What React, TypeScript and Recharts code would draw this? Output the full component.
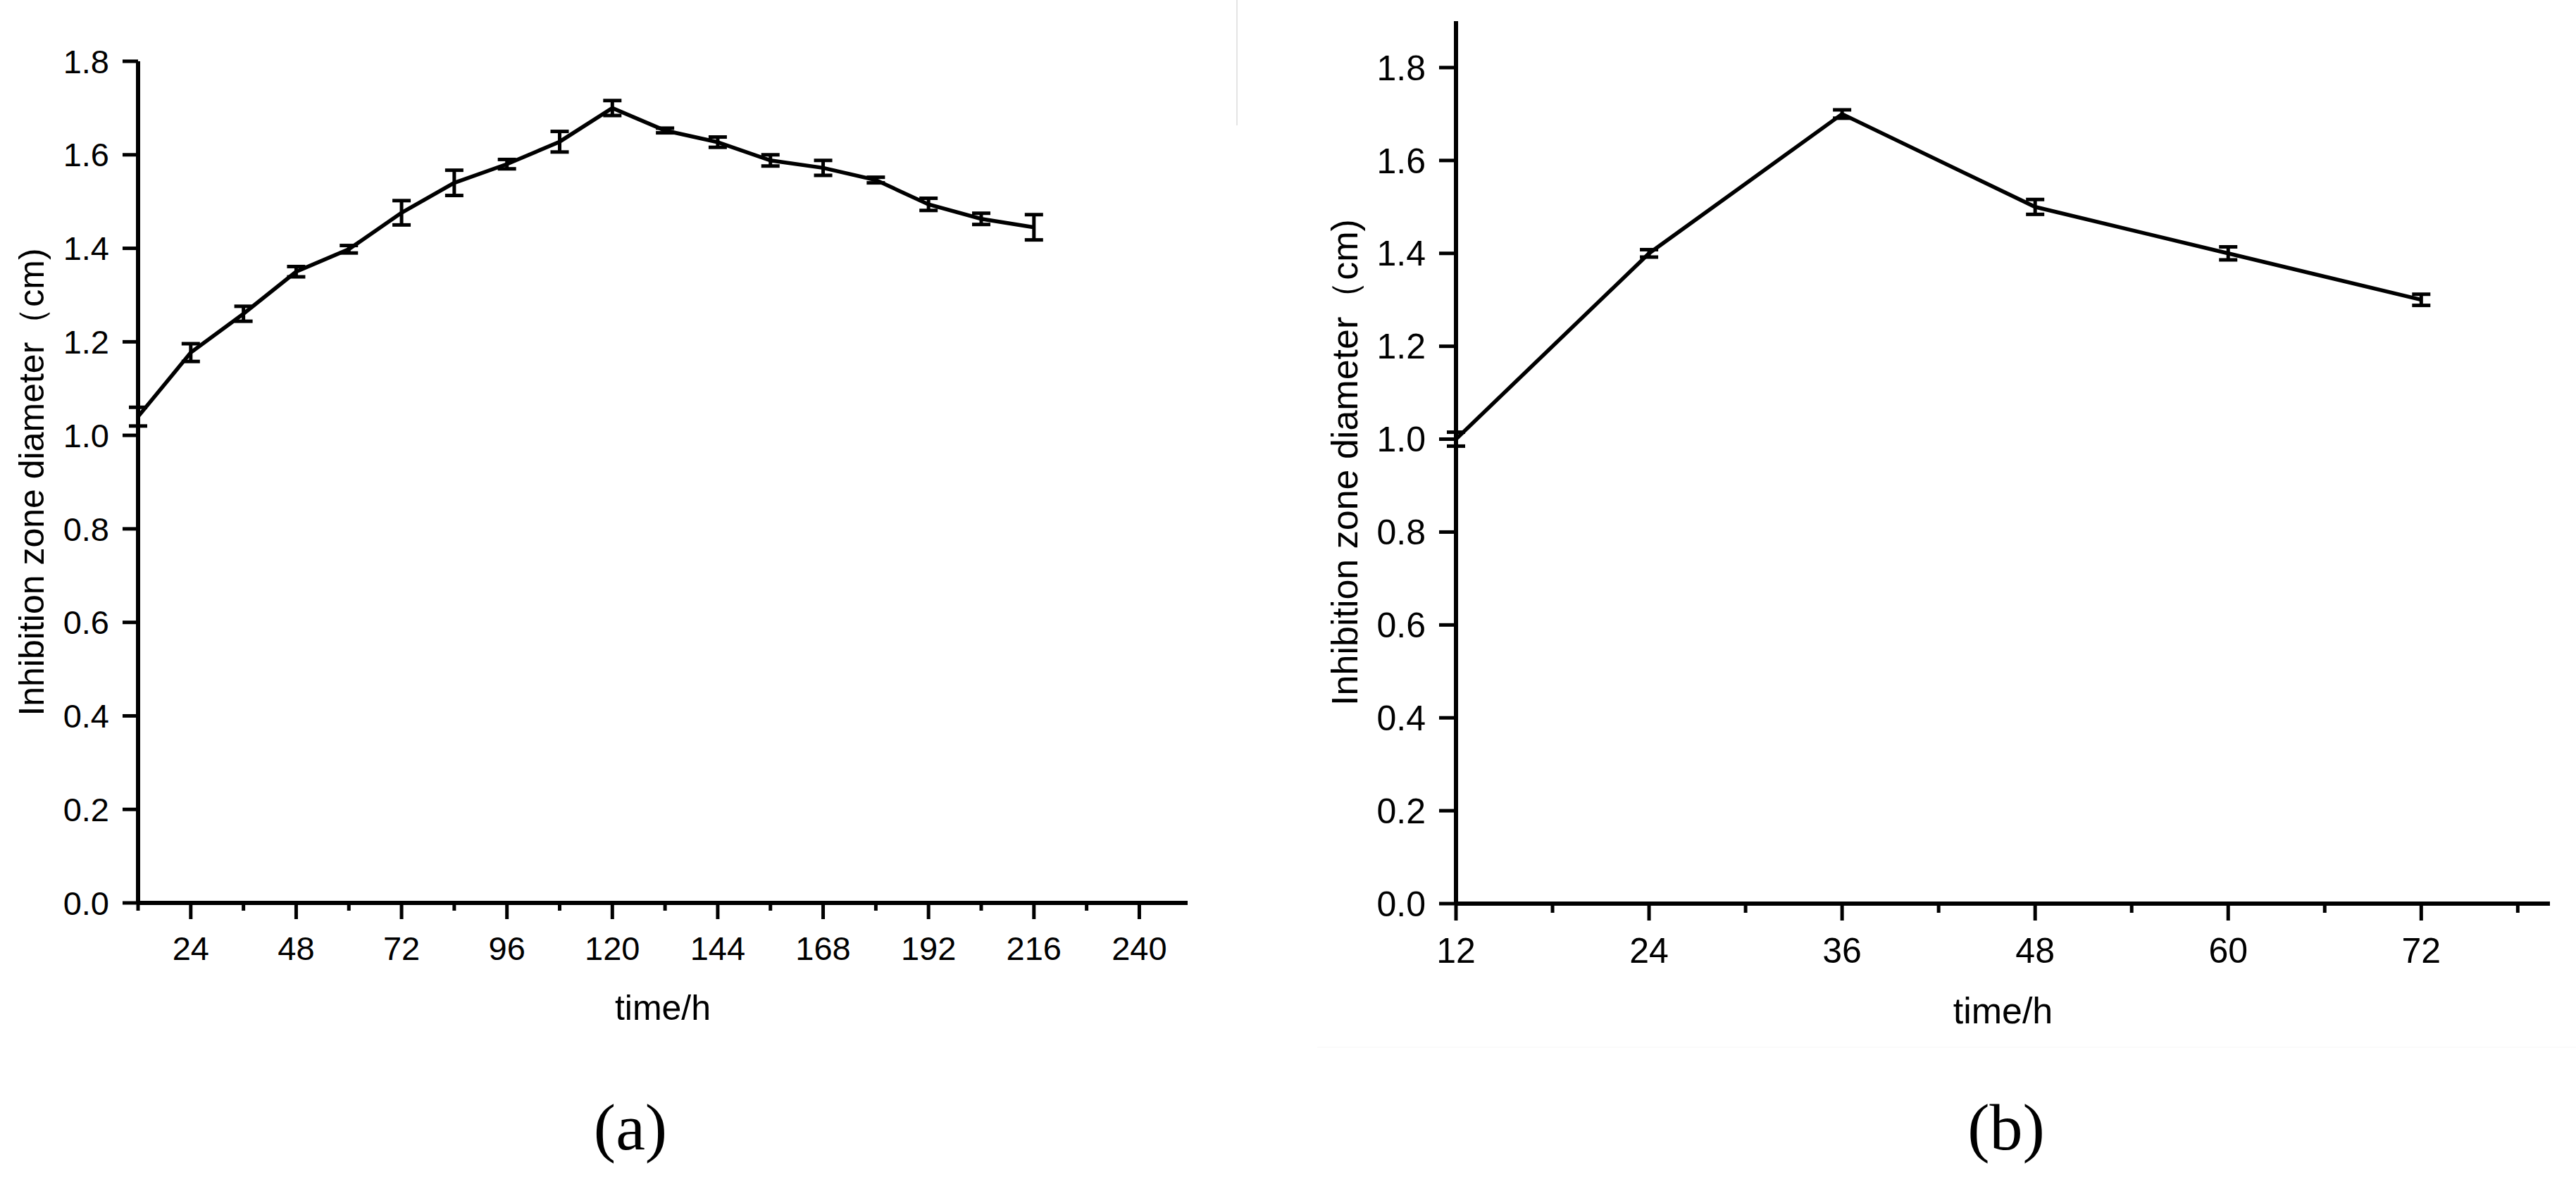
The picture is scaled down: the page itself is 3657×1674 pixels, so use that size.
import React from 'react';
import { LineChart, Line, XAxis, YAxis, ErrorBar } from 'recharts';

// ---------- data ----------
const timeA = [12, 24, 36, 48, 60, 72, 84, 96, 108, 120, 132, 144, 156, 168, 180, 192, 204, 216];
const diameterA = [1.04, 1.177, 1.26, 1.35, 1.398, 1.476, 1.54, 1.58, 1.628, 1.70, 1.652, 1.627, 1.588, 1.572, 1.546, 1.494, 1.463, 1.445];
const errorA = [0.02, 0.019, 0.016, 0.011, 0.008, 0.026, 0.027, 0.01, 0.022, 0.016, 0.005, 0.011, 0.012, 0.016, 0.006, 0.013, 0.012, 0.027];

const timeB = [12, 24, 36, 48, 60, 72];
const diameterB = [1.0, 1.40, 1.70, 1.50, 1.40, 1.30];
const errorB = [0.015, 0.008, 0.009, 0.016, 0.014, 0.012];

const yTicks = [0, 0.2, 0.4, 0.6, 0.8, 1.0, 1.2, 1.4, 1.6, 1.8];
const xTicksA = [12, 24, 36, 48, 60, 72, 84, 96, 108, 120, 132, 144, 156, 168, 180, 192, 204, 216, 228, 240];
const xMajorA = [24, 48, 72, 96, 120, 144, 168, 192, 216, 240];
const xTicksB = [12, 18, 24, 30, 36, 42, 48, 54, 60, 66, 72, 78];
const xMajorB = [12, 24, 36, 48, 60, 72];

const yTitle = 'Inhibition zone diameter（cm)';
const xTitle = 'time/h';
const captionA = '(a)';
const captionB = '(b)';

const FONT = "'Liberation Sans', Arial, Helvetica, sans-serif";
const SERIF = "'Liberation Serif', 'Times New Roman', serif";

const dataA = timeA.map((t, i) => ({ t, d: diameterA[i], e: errorA[i] }));
const dataB = timeB.map((t, i) => ({ t, d: diameterB[i], e: errorB[i] }));

function makeXTick(majors: number[], majorLen: number, minorLen: number, labelDy: number, fontSize: number) {
  return (props: any) => {
    const { x, y, payload } = props;
    const v = payload.value;
    const isMajor = majors.indexOf(v) >= 0;
    return (
      <g>
        <line x1={x} y1={y} x2={x} y2={y + (isMajor ? majorLen : minorLen)} stroke="#000" strokeWidth={5} />
        {isMajor && (
          <text x={x} y={y + labelDy} textAnchor="middle" fontSize={fontSize} fontFamily={FONT} fill="#000">
            {v}
          </text>
        )}
      </g>
    );
  };
}

type PanelProps = {
  data: any[];
  width: number;
  height: number;
  margin: any;
  yWidth: number;
  xHeight: number;
  xDomain: [number, number];
  yDomain: [number, number];
  xTicks: number[];
  xMajor: number[];
  tickFont: number;
  titleFont: number;
  yTickLen: number;
  xMajorLen: number;
  xMinorLen: number;
  xLabelDy: number;
  yTitleX: number;
  xTitleDy: number;
};

function Panel(p: PanelProps) {
  return (
    <LineChart width={p.width} height={p.height} data={p.data} margin={p.margin}>
      <XAxis
        dataKey="t"
        type="number"
        domain={p.xDomain}
        ticks={p.xTicks}
        interval={0}
        allowDataOverflow
        height={p.xHeight}
        tickSize={0}
        tickMargin={0}
        tickLine={false}
        axisLine={{ stroke: '#000', strokeWidth: 6 }}
        tick={makeXTick(p.xMajor, p.xMajorLen, p.xMinorLen, p.xLabelDy, p.tickFont)}
        label={(lp: any) => {
          const vb = lp.viewBox || {};
          return (
            <text
              x={vb.x + vb.width / 2}
              y={vb.y + p.xTitleDy}
              textAnchor="middle"
              fontSize={p.titleFont}
              fontFamily={FONT}
              fill="#000"
            >
              {xTitle}
            </text>
          );
        }}
      />
      <YAxis
        type="number"
        domain={p.yDomain}
        ticks={yTicks}
        interval={0}
        width={p.yWidth}
        tickSize={p.yTickLen}
        tickMargin={19}
        tickFormatter={(v: number) => v.toFixed(1)}
        tick={{ fontSize: p.tickFont, fill: '#000', fontFamily: FONT }}
        tickLine={{ stroke: '#000', strokeWidth: 5 }}
        axisLine={{ stroke: '#000', strokeWidth: 6 }}
        label={(lp: any) => {
          const vb = lp.viewBox || {};
          const cx = vb.x + p.yTitleX;
          const cy = vb.y + vb.height / 2;
          return (
            <text
              x={cx}
              y={cy}
              transform={`rotate(-90, ${cx}, ${cy})`}
              textAnchor="middle"
              fontSize={p.titleFont}
              fontFamily={FONT}
              fill="#000"
            >
              {yTitle}
            </text>
          );
        }}
      />
      <Line
        type="linear"
        dataKey="d"
        stroke="#000"
        strokeWidth={5.5}
        dot={false}
        activeDot={false}
        isAnimationActive={false}
      >
        <ErrorBar dataKey="e" width={13} strokeWidth={5} stroke="#000" isAnimationActive={false} />
      </Line>
    </LineChart>
  );
}

export default function App() {
  return (
    <div style={{ position: 'absolute', left: 0, top: 0, width: 3657, height: 1674, background: '#fff', overflow: 'hidden' }}>
      <svg width={3657} height={1674} style={{ position: 'absolute', left: 0, top: 0 }}>
        <line x1={1756} y1={0} x2={1756} y2={178} stroke="#e4e4e4" strokeWidth={2} />
        <line x1={1870} y1={1487} x2={3657} y2={1487} stroke="#f7f7f7" strokeWidth={1} />
        <text x={895} y={1632} textAnchor="middle" fontSize={94} fontFamily={SERIF} fill="#000">
          {captionA}
        </text>
        <text x={2848} y={1632} textAnchor="middle" fontSize={94} fontFamily={SERIF} fill="#000">
          {captionB}
        </text>
      </svg>
      <div style={{ position: 'absolute', left: 0, top: 0 }}>
        <Panel
          data={dataA}
          width={1800}
          height={1480}
          margin={{ top: 87, right: 114, bottom: 0, left: 0 }}
          yWidth={196}
          xHeight={198}
          xDomain={[12, 251]}
          yDomain={[0, 1.8]}
          xTicks={xTicksA}
          xMajor={xMajorA}
          tickFont={47}
          titleFont={50}
          yTickLen={22}
          xMajorLen={23}
          xMinorLen={11}
          xLabelDy={81}
          yTitleX={62}
          xTitleDy={166}
        />
      </div>
      <div style={{ position: 'absolute', left: 1850, top: 0 }}>
        <Panel
          data={dataB}
          width={1807}
          height={1480}
          margin={{ top: 30, right: 37, bottom: 0, left: 0 }}
          yWidth={217}
          xHeight={197}
          xDomain={[12, 80]}
          yDomain={[0, 1.9]}
          xTicks={xTicksB}
          xMajor={xMajorB}
          tickFont={50}
          titleFont={52}
          yTickLen={24}
          xMajorLen={24}
          xMinorLen={13}
          xLabelDy={84}
          yTitleX={77}
          xTitleDy={170}
        />
      </div>
    </div>
  );
}
